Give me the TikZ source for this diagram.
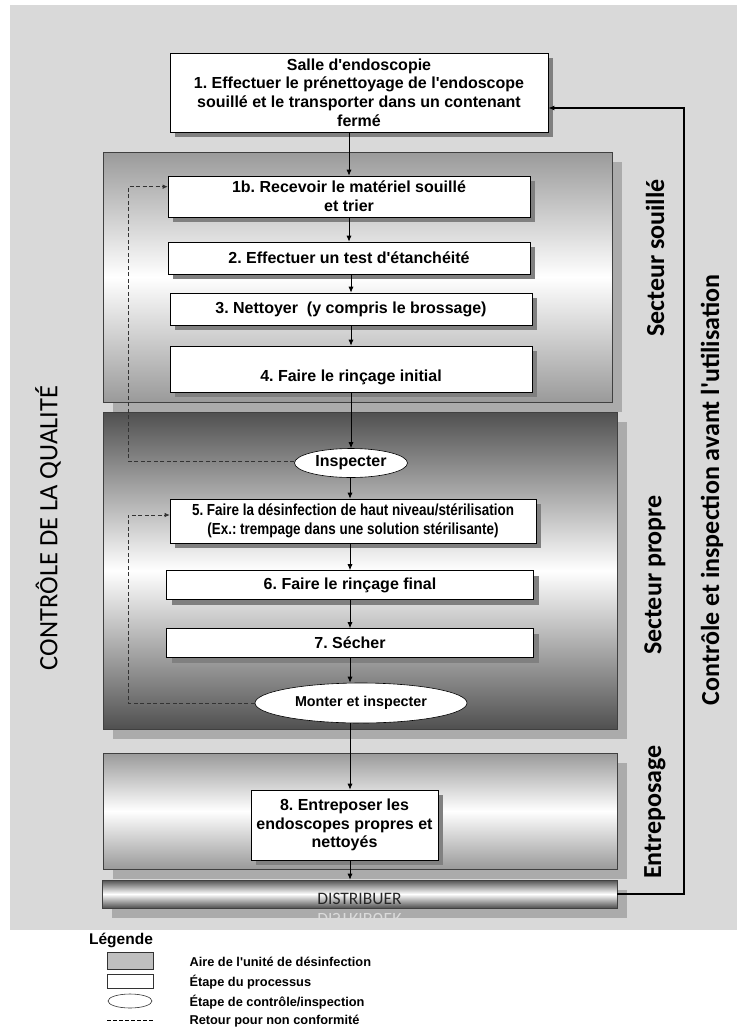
\documentclass[tikz,border=0pt]{standalone}
\usepackage{fontspec}
\setmainfont{Liberation Sans}
\newfontfamily\calfont{Carlito}
\newfontfamily\narrowfont[FakeStretch=0.84]{Liberation Sans}
\usetikzlibrary{arrows.meta,shapes.geometric,shadows}
\definecolor{bggray}{HTML}{D9D9D9}
\definecolor{areashadow}{HTML}{ABABAB}
\definecolor{midgray}{HTML}{9A9A9A}
\definecolor{darkgray}{HTML}{505050}
\newcommand{\qs}{\textquotesingle}
\frenchspacing
\begin{document}
\begin{tikzpicture}[x=1pt,y=-1pt,
  box/.style={draw=black, fill=white, line width=0.6pt, align=center, inner sep=2pt,
    font=\frenchspacing\bfseries\fontsize{16}{18.8}\selectfont,
    drop shadow={shadow xshift=5pt,shadow yshift=-5pt,fill=black!50,opacity=1}},
  oval/.style={ellipse, draw=black, fill=white, line width=0.6pt, inner sep=0pt,
    font=\bfseries\fontsize{16}{18}\selectfont},
  area/.style={draw=black!75, line width=0.6pt, inner sep=0pt,
    drop shadow={shadow xshift=10pt,shadow yshift=-10pt,fill=areashadow,opacity=1}},
  arr/.style={-{Latex[length=6pt,width=5pt]}, line width=0.8pt, black},
  fb/.style={-{Latex[length=5pt,width=4.5pt]}, dash pattern=on 4pt off 2.5pt, line width=0.7pt, black!80},
  sidelabel/.style={rotate=90, font=\calfont\bfseries\fontsize{26}{28}\selectfont},
  legtext/.style={anchor=west, font=\bfseries\fontsize{12.8}{14}\selectfont}
]
\useasboundingbox (0,0) rectangle (737,1031);
\fill[bggray] (10,5) rectangle (737,930);

% areas
\node[area, minimum width=509, minimum height=250, top color=midgray, bottom color=midgray, middle color=white] (souille) at (357.5,277) {};
\node[area, minimum width=514, minimum height=317, top color=darkgray, bottom color=darkgray, middle color=white] (propre) at (360,570.5) {};
\node[area, minimum width=514, minimum height=116, top color=midgray, bottom color=midgray, middle color=white] (entrepos) at (360,811) {};
\node[area, minimum width=515, minimum height=28, top color=darkgray, bottom color=darkgray, middle color=white,
  font=\calfont\fontsize{17.5}{18}\selectfont, text=black!85, text height=20pt, text depth=0pt] (dist) at (359.5,894) {DISTRIBUER};
\begin{scope}
  \clip (103,908.5) rectangle (617,919);
  \node[yscale=-1, font=\calfont\fontsize{17.5}{18}\selectfont, text=black!14] (distrefl) at (359.5,919) {DISTRIBUER};
\end{scope}

% process boxes
\node[box, minimum width=378, minimum height=79] (b1) at (359,92.5)
  {Salle d\qs endoscopie\\1. Effectuer le prénettoyage de l\qs endoscope\\souillé et le transporter dans un contenant\\fermé};
\node[box, minimum width=362, minimum height=41] (b1b) at (349,196.5)
  {1b. Recevoir le matériel souillé\\et trier};
\node[box, minimum width=362, minimum height=32] (b2) at (349,258) {2. Effectuer un test d\qs étanchéité};
\node[box, minimum width=362, minimum height=32] (b3) at (351,309) {3. Nettoyer\ \ (y compris le brossage)};
\node[box, minimum width=362, minimum height=46, text height=25pt, text depth=0pt] (b4) at (351,369) {4. Faire le rinçage initial};
\node[oval, minimum width=113, minimum height=29] (insp) at (351,463) {\raisebox{3pt}{Inspecter}};
\node[box, minimum width=366, minimum height=44, font=\frenchspacing\narrowfont\bfseries\fontsize{16}{19}\selectfont] (b5) at (353,521)
  {5. Faire la désinfection de haut niveau/stérilisation\\(Ex.: trempage dans une solution stérilisante)};
\node[box, minimum width=367, minimum height=29] (b6) at (350,585) {6. Faire le rinçage final};
\node[box, minimum width=367, minimum height=29] (b7) at (350,643) {7. Sécher};
\node[oval, minimum width=212, minimum height=40, font=\bfseries\fontsize{14.3}{16}\selectfont] (mon) at (361,703) {Monter et inspecter};
\node[box, minimum width=187, minimum height=70] (b8) at (344.5,825)
  {8. Entreposer les\\endoscopes propres et\\nettoyés};

% main flow
\draw[arr] (b1.south -| b1b.north) -- (b1b.north);
\draw[arr] (b1b) -- (b2);
\draw[arr] (b2.south -| b3.north) -- (b3.north);
\draw[arr] (b3) -- (b4);
\draw[arr] (b4.south) -- (b4.south |- insp.north);
\draw[arr] (insp.south -| b6.north) -- (b5.north -| b6.north);
\draw[arr] (b5.south -| b6.north) -- (b6.north);
\draw[arr] (b6) -- (b7);
\draw[arr] (b7.south) -- (b7.south |- mon.north);
\draw[arr] (b7.south |- mon.south) -- (b7.south |- b8.north);
\draw[arr] (b8.south -| b7.south) -- (b7.south |- dist.north);

% return for non-conformity
\coordinate (dl) at (128,0);
\coordinate (r1) at ([yshift=-11pt]b1b.north west);
\coordinate (r5) at ([yshift=6pt]b5.west);
\draw[fb] ([yshift=2pt]insp.west) -- ([yshift=2pt]insp.west -| dl) -- (dl |- r1) -- (r1);
\draw[fb] (mon.west) -- (mon.west -| dl) -- (dl |- r5) -- (r5);

% control before use loop
\coordinate (rc) at (684,0);
\coordinate (rt) at ([yshift=-15.5pt]b1.east);
\draw[arr, line width=1.4pt] (dist.east) -- (dist.east -| rc) -- (rc |- rt) -- (rt);

% side labels
\node[sidelabel] (lsou) at (655,258) {Secteur souillé};
\node[sidelabel] (lpro) at (655,575) {Secteur propre};
\node[sidelabel] (lent) at (655,812) {Entreposage};
\node[sidelabel] (lctl) at (712,490) {Contrôle et inspection avant l\qs utilisation};
\node[rotate=90, font=\calfont\fontsize{26.5}{28}\selectfont] (lqual) at (48,528) {CONTRÔLE DE LA QUALITÉ};

% legend
\node[font=\bfseries\fontsize{15.5}{17}\selectfont] (leg) at (121,940) {Légende};
\node[draw=black!80, fill=black!25, line width=0.6pt, minimum width=46, minimum height=17, inner sep=0pt] (lg1) at (130,960.5) {};
\node[draw=black!80, fill=white, line width=0.6pt, minimum width=46, minimum height=14, inner sep=0pt] (lg2) at (130,981) {};
\node[ellipse, draw=black!80, fill=white, line width=0.6pt, minimum width=44, minimum height=14, inner sep=0pt] (lg3) at (130,1001) {};
\coordinate (lg4a) at (107,1020);
\coordinate (lg4b) at (153,1020);
\draw[black, line width=0.6pt, dash pattern=on 3.5pt off 2.5pt] (lg4a) -- (lg4b);
\node[legtext] (lt1) at (186,962) {Aire de l\qs unité de désinfection};
\node[legtext] (lt2) at (186,982) {Étape du processus};
\node[legtext] (lt3) at (186,1002) {Étape de contrôle/inspection};
\node[legtext] (lt4) at (186,1021) {Retour pour non conformité};
\end{tikzpicture}
\end{document}
